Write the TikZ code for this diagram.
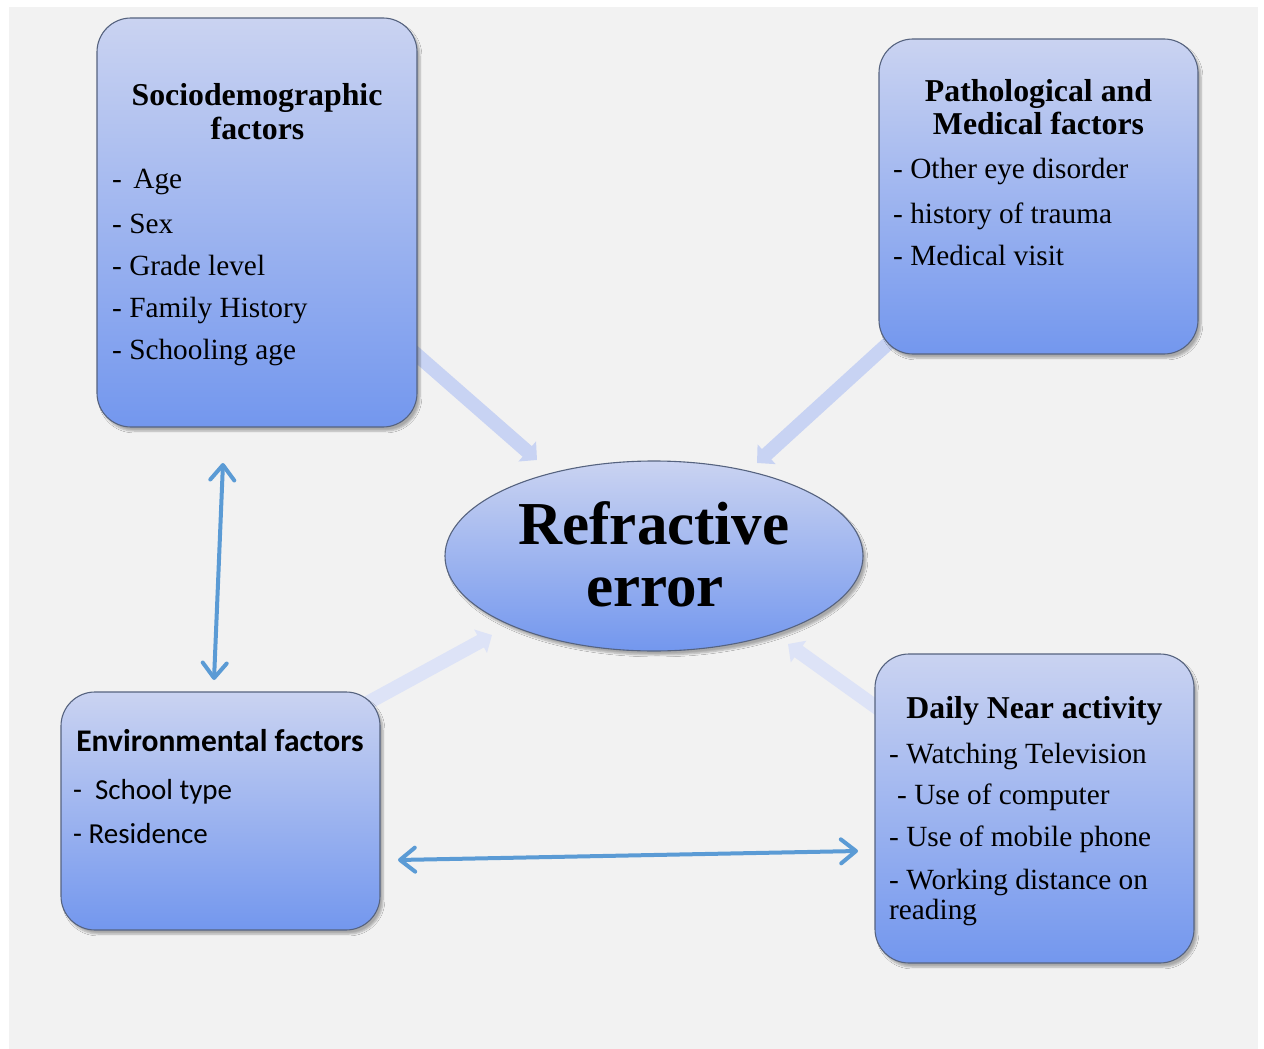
\documentclass[tikz,border=0pt]{standalone}
\usepackage{fontspec}
\setmainfont{Liberation Serif}
\newfontfamily\carlito{Carlito}
\usetikzlibrary{shapes.geometric,arrows.meta,shadows.blur}

\definecolor{bgGray}{HTML}{F2F2F2}
\definecolor{boxTop}{HTML}{CAD3F1}
\definecolor{boxBot}{HTML}{7397EE}
\definecolor{boxEdge}{HTML}{56637F}
\definecolor{fatA}{HTML}{C8D3F3}
\definecolor{fatB}{HTML}{DDE3F7}
\definecolor{thinBlue}{HTML}{5B9BD5}

\tikzset{
  factorbox/.style={draw=boxEdge, line width=1.1pt, rounded corners=34pt,
    top color=boxTop, bottom color=boxBot, inner sep=0pt,
    blur shadow={shadow xshift=3pt, shadow yshift=-4pt, shadow blur steps=6, shadow opacity=30}},
  centralell/.style={ellipse, draw=boxEdge, line width=1.1pt,
    top color=boxTop, bottom color=boxBot, inner sep=0pt,
    minimum width=418pt, minimum height=190pt,
    blur shadow={shadow xshift=3pt, shadow yshift=-4pt, shadow blur steps=6, shadow opacity=30}},
  ttl/.style={font=\fontsize{31.8}{34}\selectfont\bfseries, anchor=base, inner sep=0pt},
  itm/.style={font=\fontsize{29.3}{33}\selectfont, anchor=base west, inner sep=0pt},
  cttl/.style={font=\carlito\fontsize{31.5}{34}\selectfont\bfseries, anchor=base, inner sep=0pt},
  citm/.style={font=\carlito\fontsize{29}{33}\selectfont, anchor=base west, inner sep=0pt},
  bigttl/.style={font=\fontsize{61}{64}\selectfont\bfseries, anchor=base, inner sep=0pt},
  fatarrow/.style={line width=14pt, draw=#1, -{Triangle[width=26pt,length=13pt]}},
  thinarrow/.style={line width=4pt, draw=thinBlue, line cap=round,
    {Straight Barb[length=15pt,width=24pt,round]}-{Straight Barb[length=15pt,width=24pt,round]}}
}

\begin{document}
\begin{tikzpicture}[x=1pt,y=-1pt]
\useasboundingbox (0,0) rectangle (1264,1049);
\fill[white] (0,0) rectangle (1264,1049);
\fill[bgGray] (9,7) rectangle (1258,1049);

% fat arrow end points
\coordinate (f1s) at (400,340);
\coordinate (f1e) at (537,460);
\coordinate (f2s) at (905,328);
\coordinate (f2e) at (757,463);
\coordinate (f3s) at (360,707);
\coordinate (f3e) at (492,635);
\coordinate (f4s) at (890,717);
\coordinate (f4e) at (788,644);

\draw[fatarrow=fatA] (f1s) -- (f1e);
\draw[fatarrow=fatA] (f2s) -- (f2e);
\draw[fatarrow=fatB] (f3s) -- (f3e);
\draw[fatarrow=fatB] (f4s) -- (f4e);

% boxes
\node[factorbox, minimum width=320pt, minimum height=409pt] (socio) at (257,222.5) {};
\node[factorbox, minimum width=319pt, minimum height=315pt] (patho) at (1038.5,196.5) {};
\node[factorbox, minimum width=319pt, minimum height=238pt] (env) at (220.5,811) {};
\node[factorbox, minimum width=319pt, minimum height=309pt] (daily) at (1034.5,808.5) {};
\node[centralell] (re) at (654,556) {};

% central text
\node[bigttl] (reA) at (654,544) {Refractive};
\node[bigttl] (reB) at (655,606) {error};

% Sociodemographic
\node[ttl] (s0) at (257,106) {Sociodemographic};
\node[ttl] (s1) at (257.5,139) {factors};
\node[itm] (s2) at (112,188) {-\hspace{11.5pt}Age};
\node[itm] (s3) at (112,233) {- Sex};
\node[itm] (s4) at (112,275) {- Grade level};
\node[itm] (s5) at (112,317) {- Family History};
\node[itm] (s6) at (112,359) {- Schooling age};

% Pathological
\node[ttl] (p0) at (1038.5,101) {Pathological and};
\node[ttl] (p1) at (1038.5,134) {Medical factors};
\node[itm] (p2) at (893,178) {- Other eye disorder};
\node[itm] (p3) at (893,223) {- history of trauma};
\node[itm] (p4) at (893,265) {- Medical visit};

% Environmental
\node[cttl] (e0) at (220,751) {Environmental factors};
\node[citm] (e1) at (73,799) {-\hspace{13pt}School type};
\node[citm] (e2) at (73,843) {- Residence};

% Daily near activity
\node[ttl] (d0) at (1034.5,718) {Daily Near activity};
\node[itm] (d1) at (889,763) {- Watching Television};
\node[itm] (d2) at (897,804) {- Use of computer};
\node[itm] (d3) at (889,846) {- Use of mobile phone};
\node[itm] (d4) at (889,889) {- Working distance on};
\node[itm] (d5) at (889,919) {reading};

% thin double arrows
\coordinate (v1) at (223,463);
\coordinate (v2) at (214,680);
\coordinate (h1) at (398,860);
\coordinate (h2) at (858,851);
\draw[thinarrow] (v1) -- (v2);
\draw[thinarrow] (h1) -- (h2);
\end{tikzpicture}
\end{document}
